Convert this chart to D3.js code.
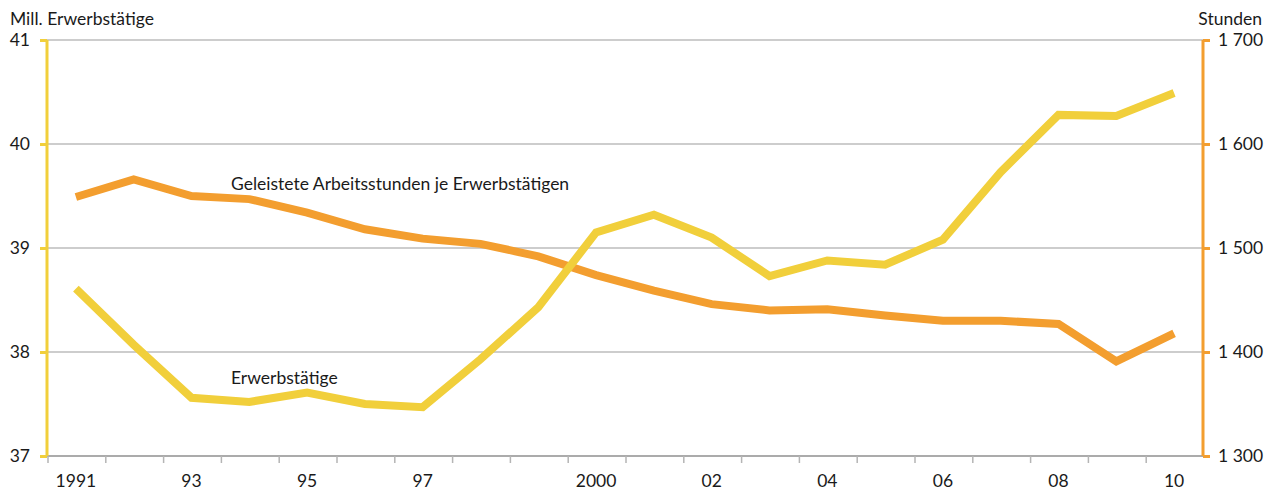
<!DOCTYPE html>
<html><head><meta charset="utf-8">
<script src="https://cdn.jsdelivr.net/npm/d3@7"></script>
<style>body{margin:0;background:#fff}svg{display:block}text{font-family:Lato,"Open Sans",sans-serif;fill:#1a1a1a}</style>
</head><body><svg id="c" width="1266" height="491"></svg>
<script>
const years = [1991,1992,1993,1994,1995,1996,1997,1998,1999,2000,2001,2002,2003,2004,2005,2006,2007,2008,2009,2010];
const yearLabels = ["1991","","93","","95","","97","","","2000","","02","","04","","06","","08","","10"];
const erwerbstaetige = [38.61,38.07,37.56,37.52,37.61,37.50,37.47,37.93,38.43,39.15,39.32,39.10,38.73,38.88,38.84,39.08,39.73,40.28,40.27,40.49];
const stunden = [1549,1566,1550,1547,1534,1518,1509,1504,1492,1474,1459,1446,1440,1441,1435,1430,1430,1427,1391,1418];
const leftTicks = [37,38,39,40,41];
const rightTicks = [1300,1400,1500,1600,1700];

const FS = "17.5px";
const svg = d3.select("#c");
const L=47, R=1203, T=40, B=456;
const x = d3.scaleBand().domain(years).range([L,R]);
const yL = d3.scaleLinear().domain([37,41]).range([B,T]);
const yR = d3.scaleLinear().domain([1300,1700]).range([B,T]);
const yellow="#F1CF3B", orange="#F39E2F";

// gridlines
svg.append("g").selectAll("line").data(leftTicks.slice(1)).join("line")
 .attr("x1",L).attr("x2",R).attr("y1",d=>yL(d)).attr("y2",d=>yL(d))
 .attr("stroke","#bdbdbd").attr("stroke-width",1.6);

// bottom axis
const xa = svg.append("g").attr("transform",`translate(0,${B})`)
 .call(d3.axisBottom(x).tickSize(0).tickFormat((d,i)=>yearLabels[i]));
xa.select(".domain").remove();
xa.selectAll("text").attr("dy",0).attr("y",31).style("font-size",FS).style("font-family","Lato").style("fill","#1a1a1a");
svg.append("line").attr("x1",L).attr("x2",R).attr("y1",B).attr("y2",B).attr("stroke","#ababab").attr("stroke-width",2);
svg.append("g").selectAll("line").data(years).join("line")
 .attr("x1",d=>x(d)+1).attr("x2",d=>x(d)+1).attr("y1",B).attr("y2",B+7)
 .attr("stroke","#b5b5b5").attr("stroke-width",1.5);

// left axis
const la = svg.append("g").attr("transform",`translate(${L},0)`)
 .call(d3.axisLeft(yL).tickValues(leftTicks).tickSize(7).tickPadding(10).tickFormat(d3.format("d")));
la.select(".domain").attr("stroke",yellow).attr("stroke-width",3).attr("d",`M0,${T}V${B}`);
la.selectAll(".tick line").attr("stroke",yellow).attr("stroke-width",3);
la.selectAll("text").style("font-size",FS).style("font-family","Lato").style("fill","#1a1a1a");

// right axis
const ra = svg.append("g").attr("transform",`translate(${R},0)`)
 .call(d3.axisRight(yR).tickValues(rightTicks).tickSize(7).tickPadding(8)
   .tickFormat(d=>d3.format(",")(d).replace(","," ")));
ra.select(".domain").attr("stroke",orange).attr("stroke-width",3).attr("d",`M0,${T}V${B}`);
ra.selectAll(".tick line").attr("stroke",orange).attr("stroke-width",3);
ra.selectAll("text").style("font-size",FS).style("font-family","Lato").style("fill","#1a1a1a");

// lines
const cx = d=>x(d)+x.bandwidth()/2;
svg.append("path").datum(years.map((y,i)=>[cx(y),yR(stunden[i])]))
 .attr("d",d3.line()).attr("fill","none").attr("stroke",orange).attr("stroke-width",8).attr("stroke-linejoin","miter");
svg.append("path").datum(years.map((y,i)=>[cx(y),yL(erwerbstaetige[i])]))
 .attr("d",d3.line()).attr("fill","none").attr("stroke",yellow).attr("stroke-width",8).attr("stroke-linejoin","miter");

// titles & labels
svg.append("text").attr("x",10).attr("y",25).style("font-size",FS).text("Mill. Erwerbstätige");
svg.append("text").attr("x",1262).attr("y",25).attr("text-anchor","end").style("font-size",FS).text("Stunden");
svg.append("text").attr("x",231).attr("y",190).style("font-size",FS).text("Geleistete Arbeitsstunden je Erwerbstätigen");
svg.append("text").attr("x",231).attr("y",384).style("font-size",FS).text("Erwerbstätige");
</script></body></html>
